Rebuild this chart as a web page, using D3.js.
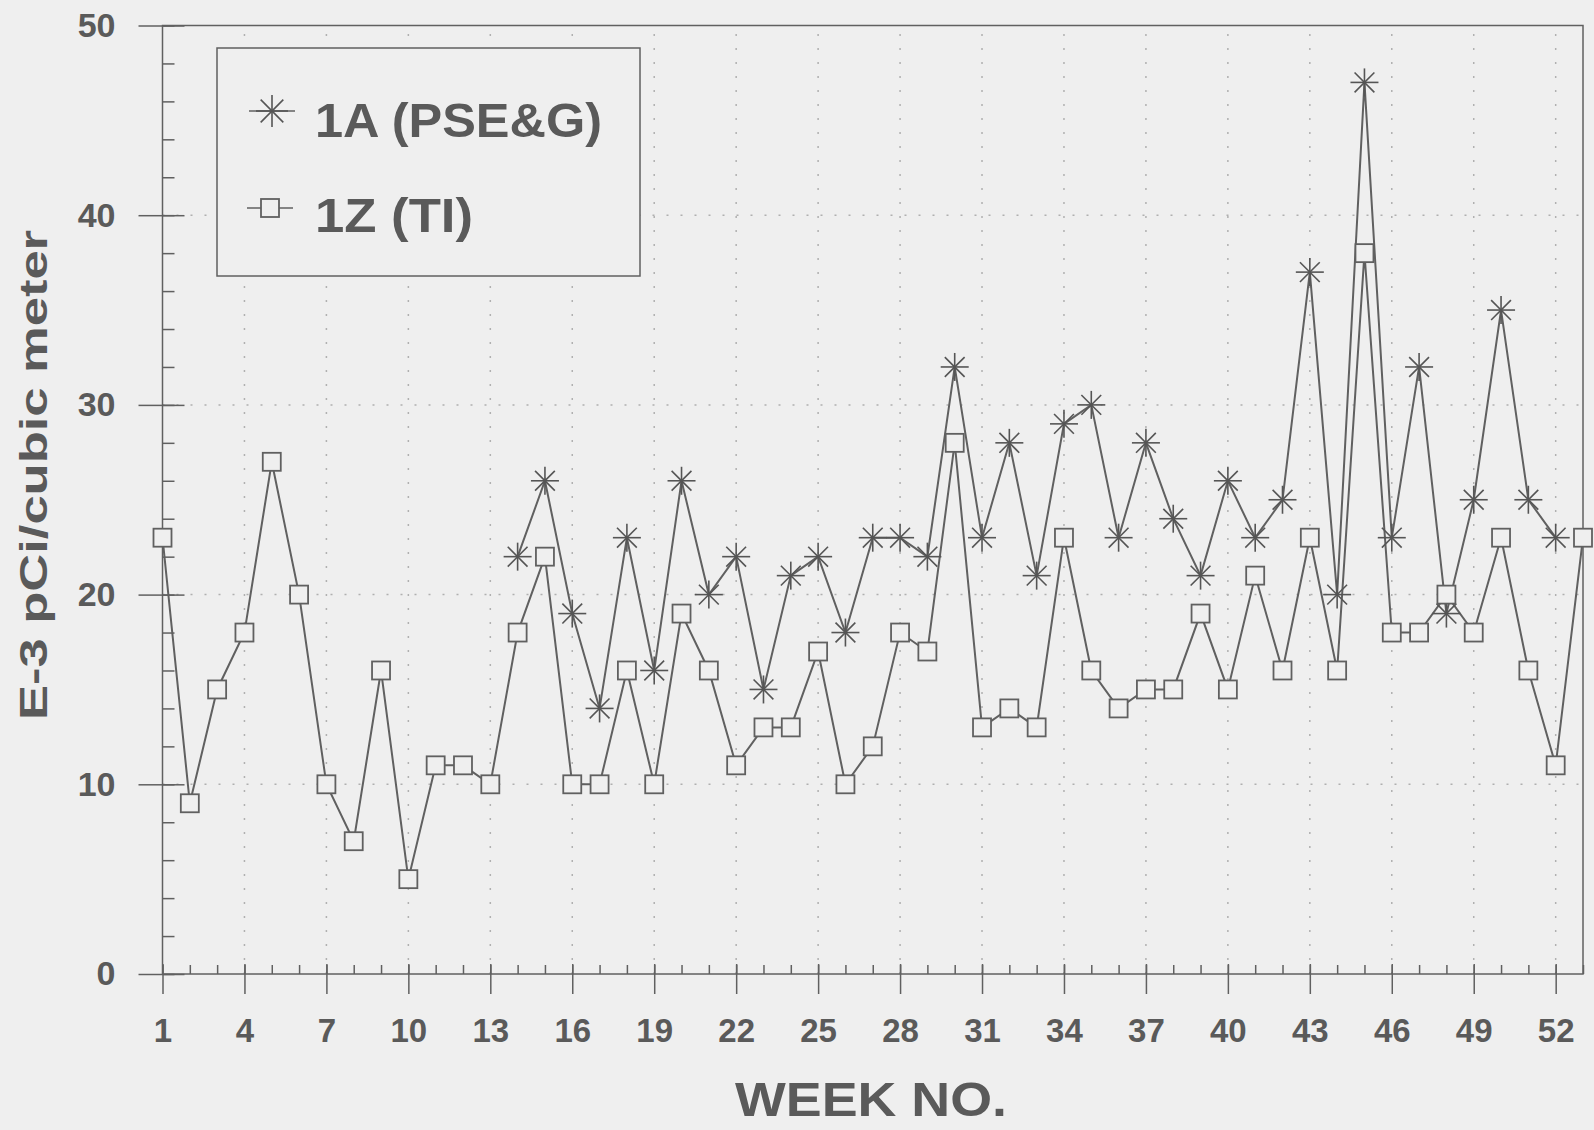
<!DOCTYPE html>
<html>
<head>
<meta charset="utf-8">
<script src="https://cdn.jsdelivr.net/npm/d3@7"></script>
<style>
  body { margin: 0; background: #efefef; }
  text { font-family: "Liberation Sans", Arial, sans-serif; font-weight: bold; fill: #5a5a5a; }
</style>
</head>
<body>
<div id="chart"></div>
<script>
// weekly concentrations, E-3 pCi/cubic meter
var weeks1Z = d3.range(1, 54);
var values1Z = [23, 9, 15, 18, 27, 20, 10, 7, 16, 5, 11, 11, 10, 18, 22, 10, 10, 16, 10, 19,
                16, 11, 13, 13, 17, 10, 12, 18, 17, 28, 13, 14, 13, 23, 16, 14, 15, 15, 19, 15,
                21, 16, 23, 16, 38, 18, 18, 20, 18, 23, 16, 11, 23];
var weeks1A = d3.range(14, 53);
var values1A = [22, 26, 19, 14, 23, 16, 26, 20, 22, 15, 21, 22, 18, 23, 23, 22, 32, 23, 28, 21,
                29, 30, 23, 28, 24, 21, 26, 23, 25, 37, 20, 47, 23, 32, 19, 25, 35, 25, 23];
var xTicks = [1, 4, 7, 10, 13, 16, 19, 22, 25, 28, 31, 34, 37, 40, 43, 46, 49, 52];
var yTicks = [0, 10, 20, 30, 40, 50];
var seriesNames = ['1A (PSE&G)', '1Z (TI)'];

var W = 1594, H = 1130,
    ink = '#606060';

var svg = d3.select('#chart').append('svg')
    .attr('width', W).attr('height', H)
    .style('background', '#efefef');

var x = d3.scaleLinear().domain([1, 53]).range([162.5, 1583]),
    y = d3.scaleLinear().domain([0, 50]).range([974, 25.5]);

// grid
var grid = svg.append('g').attr('stroke', '#b0b0b0').attr('stroke-width', 1.5)
    .attr('stroke-dasharray', '2,12');
grid.selectAll('.vg').data(xTicks.slice(1)).enter().append('line')
    .attr('x1', d => x(d)).attr('x2', d => x(d))
    .attr('y1', y(0)).attr('y2', y(50));
grid.selectAll('.hg').data(yTicks.slice(1, -1)).enter().append('line')
    .attr('x1', x(1)).attr('x2', x(53))
    .attr('y1', d => y(d)).attr('y2', d => y(d));

// frame
svg.append('rect')
    .attr('x', x(1)).attr('y', y(50))
    .attr('width', x(53) - x(1)).attr('height', y(0) - y(50))
    .attr('fill', 'none').attr('stroke', ink).attr('stroke-width', 1.5);

// y axis
var yAxis = svg.append('g').attr('transform', 'translate(' + x(1) + ',0)');
yAxis.append('g').call(d3.axisLeft(y).tickValues(yTicks).tickSize(24).tickPadding(23))
    .call(g => g.select('.domain').remove());
yAxis.append('g').call(d3.axisRight(y).tickValues(yTicks).tickSize(22).tickFormat(''))
    .call(g => g.select('.domain').remove());
yAxis.append('g').call(d3.axisRight(y).tickValues(d3.range(0, 51, 2)).tickSize(12).tickFormat(''))
    .call(g => g.select('.domain').remove());
yAxis.selectAll('line').attr('stroke', ink).attr('stroke-width', 1.5);
yAxis.selectAll('text').attr('font-size', 34).attr('fill', '#5a5a5a').attr('font-family', null);

// x axis
var xAxis = svg.append('g').attr('transform', 'translate(0,' + y(0) + ')');
xAxis.append('g').call(d3.axisBottom(x).tickValues(xTicks).tickSize(20).tickPadding(25))
    .call(g => g.select('.domain').remove());
xAxis.append('g').call(d3.axisTop(x).tickValues(xTicks).tickSize(10).tickFormat(''))
    .call(g => g.select('.domain').remove());
xAxis.append('g').call(d3.axisTop(x).tickValues(d3.range(1, 54)).tickSize(9).tickFormat(''))
    .call(g => g.select('.domain').remove());
xAxis.selectAll('line').attr('stroke', ink).attr('stroke-width', 1.5);
xAxis.selectAll('text').attr('font-size', 33).attr('fill', '#5a5a5a').attr('font-family', null);

// axis titles
svg.append('text')
    .attr('transform', 'translate(47,475) rotate(-90)')
    .attr('text-anchor', 'middle').attr('font-size', 38)
    .attr('textLength', 490).attr('lengthAdjust', 'spacingAndGlyphs')
    .text('E-3 pCi/cubic meter');
svg.append('text')
    .attr('x', 871).attr('y', 1116)
    .attr('text-anchor', 'middle').attr('font-size', 48)
    .attr('textLength', 272).attr('lengthAdjust', 'spacingAndGlyphs')
    .text('WEEK NO.');

// markers
function star(g, r) {
  for (var i = 0; i < 4; i++) {
    var a = i * Math.PI / 4;
    g.append('line')
      .attr('x1', -r * Math.cos(a)).attr('y1', -r * Math.sin(a))
      .attr('x2', r * Math.cos(a)).attr('y2', r * Math.sin(a));
  }
}

var line = d3.line().x(d => x(d[0])).y(d => y(d[1]));
var data1Z = weeks1Z.map((w, i) => [w, values1Z[i]]);
var data1A = weeks1A.map((w, i) => [w, values1A[i]]);

svg.append('path').datum(data1A).attr('d', line)
    .attr('fill', 'none').attr('stroke', ink).attr('stroke-width', 2);
svg.append('path').datum(data1Z).attr('d', line)
    .attr('fill', 'none').attr('stroke', ink).attr('stroke-width', 2);

var stars = svg.append('g').attr('stroke', '#555').attr('stroke-width', 1.6);
stars.selectAll('g').data(data1A).enter().append('g')
    .attr('transform', d => 'translate(' + x(d[0]) + ',' + y(d[1]) + ')')
    .each(function() { star(d3.select(this), 14); });

var sq = 18;
svg.append('g').selectAll('rect').data(data1Z).enter().append('rect')
    .attr('x', d => x(d[0]) - sq / 2).attr('y', d => y(d[1]) - sq / 2)
    .attr('width', sq).attr('height', sq)
    .attr('fill', '#efefef').attr('stroke', ink).attr('stroke-width', 1.8);

// legend
var legend = svg.append('g');
legend.append('rect')
    .attr('x', 217).attr('y', 48).attr('width', 423).attr('height', 228)
    .attr('fill', '#efefef').attr('stroke', ink).attr('stroke-width', 1.5);
var l1 = legend.append('g').attr('transform', 'translate(272,111)');
l1.append('line').attr('x1', -23).attr('x2', 23).attr('stroke', ink).attr('stroke-width', 1.6);
star(l1.append('g').attr('stroke', '#555').attr('stroke-width', 1.6), 16);
legend.append('text').attr('x', 315).attr('y', 137).attr('font-size', 48)
    .attr('textLength', 287).attr('lengthAdjust', 'spacingAndGlyphs').text(seriesNames[0]);
var l2 = legend.append('g').attr('transform', 'translate(270,208)');
l2.append('line').attr('x1', -23).attr('x2', 23).attr('stroke', ink).attr('stroke-width', 1.6);
l2.append('rect').attr('x', -sq / 2).attr('y', -sq / 2).attr('width', sq).attr('height', sq)
    .attr('fill', '#efefef').attr('stroke', ink).attr('stroke-width', 1.8);
legend.append('text').attr('x', 315).attr('y', 232).attr('font-size', 48)
    .attr('textLength', 158).attr('lengthAdjust', 'spacingAndGlyphs').text(seriesNames[1]);
</script>
</body>
</html>
